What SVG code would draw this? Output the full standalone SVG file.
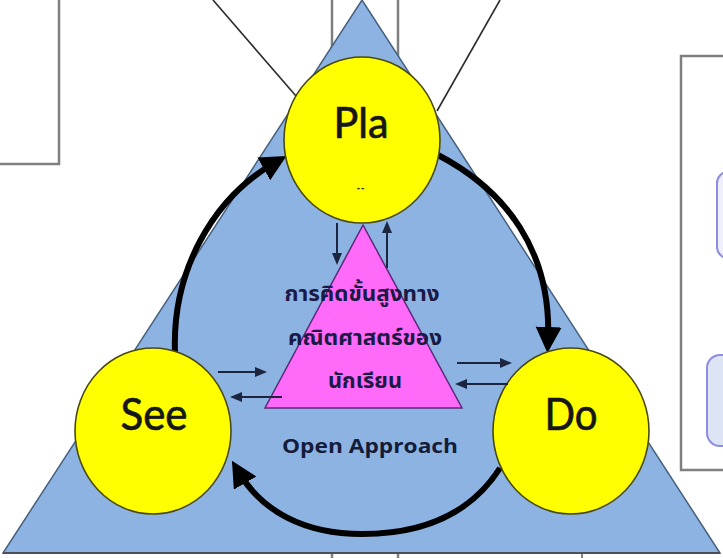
<svg xmlns="http://www.w3.org/2000/svg" width="723" height="558" viewBox="0 0 723 558">
<defs>
<style>
.box{fill:#ffffff;stroke:#7f7f7f;stroke-width:2.5}
.diag{stroke:#2b2b2b;stroke-width:1.6;fill:none}
.circ{fill:#ffff00;stroke:#4a4a10;stroke-width:1.6}
.lbl{font-family:Lato,"Open Sans","Liberation Sans",sans-serif;fill:#161616;stroke:#161616;stroke-width:0.7;text-anchor:middle}
.cyc{fill:none;stroke:#000000;stroke-width:6}
.sm{fill:none;stroke:#1c2540;stroke-width:2}
.thai{font-family:"Noto Sans Thai","Noto Sans","DejaVu Sans",sans-serif;font-weight:bold;fill:#1a1a46;text-anchor:middle;font-size:22px}
.rr{stroke:#8c8ce0;stroke-width:2}
</style>
<marker id="big" markerUnits="userSpaceOnUse" markerWidth="28" markerHeight="28" refX="14" refY="13" orient="auto" viewBox="0 0 28 28">
<path d="M0,0 L26,13 L0,26 Z" fill="#000000"/>
</marker>
<marker id="sm" markerUnits="userSpaceOnUse" markerWidth="12" markerHeight="10" refX="9" refY="5" orient="auto" viewBox="0 0 12 10">
<path d="M0,0 L12,5 L0,10 Z" fill="#1c2540"/>
</marker>
</defs>

<g id="background-boxes">
<rect class="box" x="332" y="-5" width="66" height="575"/>
<rect class="box" x="-5" y="-5" width="64" height="169"/>
<line x1="582" y1="553" x2="582" y2="560" stroke="#5a5a5a" stroke-width="1.5"/>
</g>

<g id="main-triangle">
<polygon points="362,0 3,553 720,553" fill="#8db3e2" stroke="#46607e" stroke-width="1.5"/>
<line x1="3" y1="553" x2="720" y2="553" stroke="#4a4f5a" stroke-width="2"/>
</g>

<g id="right-panel">
<rect class="box" x="681" y="56" width="60" height="414" stroke-width="3"/>
<rect class="rr" x="717" y="172" width="40" height="86" rx="11" fill="#efeffb"/>
<rect class="rr" x="707" y="355" width="50" height="91" rx="13" fill="#dde5f5"/>
</g>

<g id="connectors">
<line class="diag" x1="213" y1="0" x2="296" y2="96"/>
<line class="diag" x1="500" y1="0" x2="437" y2="111"/>
<path class="cyc" d="M175,352 C172,272 212,198 276,162" marker-end="url(#big)"/>
<path class="cyc" d="M438,155 C505,190 552,250 548,341" marker-end="url(#big)"/>
<path class="cyc" d="M500,468 C470,515 420,534 362,534 C305,534 262,512 238,471" marker-end="url(#big)"/>
</g>

<g id="node-pla">
<ellipse class="circ" cx="362" cy="140" rx="78" ry="83"/>
<text class="lbl" x="361" y="138" font-size="43" textLength="55" lengthAdjust="spacingAndGlyphs">Pla</text>
<text x="361" y="191" font-family="'Liberation Sans',sans-serif" font-size="10" font-weight="bold" fill="#333" text-anchor="middle" letter-spacing="1">--</text>
</g>

<g id="node-see">
<ellipse class="circ" cx="153" cy="431" rx="78" ry="83"/>
<text class="lbl" x="154" y="430" font-size="45" textLength="67" lengthAdjust="spacingAndGlyphs">See</text>
</g>

<g id="node-do">
<ellipse class="circ" cx="571" cy="431" rx="78" ry="83"/>
<text class="lbl" x="571" y="430" font-size="45" textLength="53" lengthAdjust="spacingAndGlyphs">Do</text>
</g>

<g id="node-center">
<polygon points="363,225 265,408 462,408" fill="#ff6af8" stroke="#5a2a7a" stroke-width="1.5"/>
<text class="thai" x="362" y="301" textLength="155" lengthAdjust="spacingAndGlyphs">การคิดขั้นสูงทาง</text>
<text class="thai" x="365" y="345" textLength="154" lengthAdjust="spacingAndGlyphs">คณิตศาสตร์ของ</text>
<text class="thai" x="365" y="388" textLength="74" lengthAdjust="spacingAndGlyphs">นักเรียน</text>
</g>

<g id="small-arrows">
<line class="sm" x1="337" y1="223" x2="337" y2="262" marker-end="url(#sm)"/>
<line class="sm" x1="387" y1="268" x2="387" y2="224" marker-end="url(#sm)"/>
<line class="sm" x1="218" y1="372" x2="264" y2="372" marker-end="url(#sm)"/>
<line class="sm" x1="282" y1="397" x2="233" y2="397" marker-end="url(#sm)"/>
<line class="sm" x1="457" y1="363" x2="509" y2="363" marker-end="url(#sm)"/>
<line class="sm" x1="508" y1="384" x2="458" y2="384" marker-end="url(#sm)"/>
</g>

<g id="label-open-approach">
<text x="370" y="453" font-family="'Open Sans','Liberation Sans',sans-serif" font-weight="bold" font-size="19" fill="#141c3a" text-anchor="middle" textLength="176" lengthAdjust="spacingAndGlyphs">Open Approach</text>
</g>
</svg>
